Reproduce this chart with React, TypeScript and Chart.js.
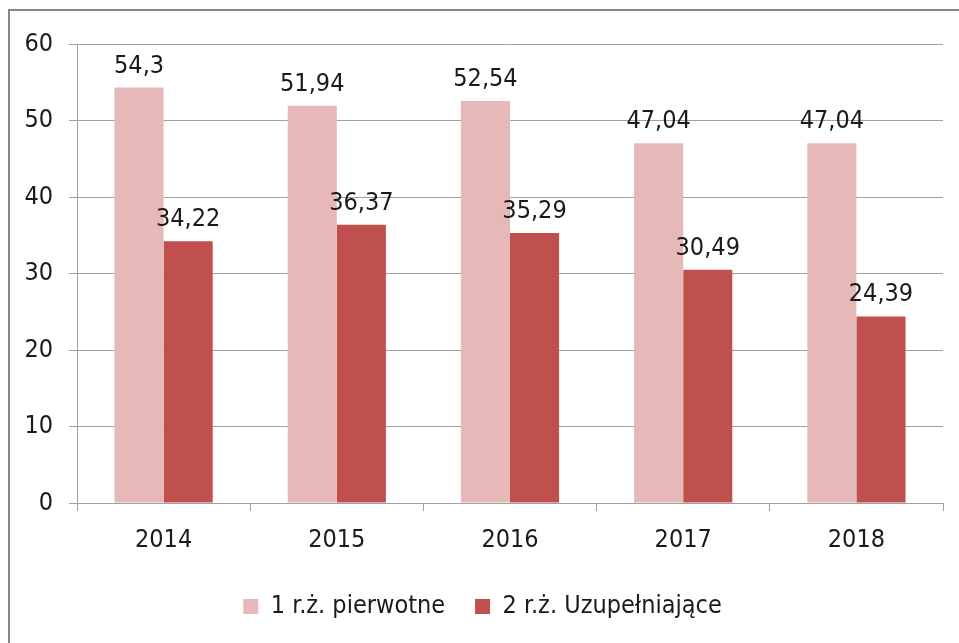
import React, { useEffect, useRef } from "react";
import { Chart, registerables } from "chart.js";

Chart.register(...registerables);

const categories = ["2014", "2015", "2016", "2017", "2018"];
const seriesNames = ["1 r.ż. pierwotne", "2 r.ż. Uzupełniające"];
const primaryValues = [54.3, 51.94, 52.54, 47.04, 47.04];
const supplementaryValues = [34.22, 36.37, 35.29, 30.49, 24.39];
const yTicks = [0, 10, 20, 30, 40, 50, 60];

const FONT = "'DejaVu Sans Condensed', 'DejaVu Sans', sans-serif";
const FS = 25;
const TEXT = "#1a1a1a";
const GRID = "#a0a0a0";

const fmt = (v: number) => String(v).replace(".", ",");

const valueLabels = {
  id: "valueLabels",
  afterDatasetsDraw(chart: any) {
    const ctx = chart.ctx;
    ctx.save();
    ctx.font = `${FS}px ${FONT}`;
    ctx.fillStyle = TEXT;
    ctx.textAlign = "center";
    ctx.textBaseline = "alphabetic";
    chart.data.datasets.forEach((ds: any, di: number) => {
      const meta = chart.getDatasetMeta(di);
      meta.data.forEach((bar: any, i: number) => {
        ctx.fillText(fmt(ds.data[i]), bar.x, bar.y - 15);
      });
    });
    ctx.restore();
  },
};

export default function App() {
  const ref = useRef<HTMLCanvasElement | null>(null);
  useEffect(() => {
    if (!ref.current) return;
    const chart = new Chart(ref.current, {
      type: "bar",
      data: {
        labels: categories,
        datasets: [
          {
            label: seriesNames[0],
            data: primaryValues,
            backgroundColor: "#E6B9B8",
            categoryPercentage: 0.567,
            barPercentage: 1,
          },
          {
            label: seriesNames[1],
            data: supplementaryValues,
            backgroundColor: "#C0504D",
            categoryPercentage: 0.567,
            barPercentage: 1,
          },
        ],
      },
      options: {
        responsive: false,
        animation: false,
        layout: { padding: { left: 22, right: 16, top: 44, bottom: 14 } },
        plugins: {
          legend: {
            position: "bottom",
            labels: {
              font: { family: FONT, size: FS },
              color: TEXT,
              boxWidth: 15,
              boxHeight: 15,
              padding: 30,
            },
          },
          tooltip: { enabled: false },
        },
        scales: {
          x: {
            grid: {
              offset: true,
              drawOnChartArea: false,
              drawTicks: true,
              tickLength: 8,
              color: GRID,
            },
            border: { color: GRID },
            ticks: { font: { family: FONT, size: FS }, color: TEXT, padding: 14 },
            afterFit(scale: any) {
              scale.height = 61;
            },
          },
          y: {
            min: 0,
            max: 60,
            afterBuildTicks(scale: any) {
              scale.ticks = yTicks.map((v) => ({ value: v }));
            },
            grid: { color: GRID, tickLength: 8 },
            border: { color: GRID },
            ticks: { font: { family: FONT, size: FS }, color: TEXT, padding: 16 },
            afterFit(scale: any) {
              scale.width = 55;
            },
          },
        },
      },
      plugins: [valueLabels],
    });
    return () => chart.destroy();
  }, []);
  return (
    <div style={{ position: "fixed", left: 0, top: 0, width: 959, height: 643, background: "#fff" }}>
      <canvas ref={ref} width={959} height={643} style={{ position: "absolute", left: 0, top: 0 }} />
      <div
        style={{
          position: "absolute",
          left: 8,
          top: 9,
          width: 980,
          height: 680,
          border: "2px solid #878787",
          pointerEvents: "none",
        }}
      />
    </div>
  );
}
